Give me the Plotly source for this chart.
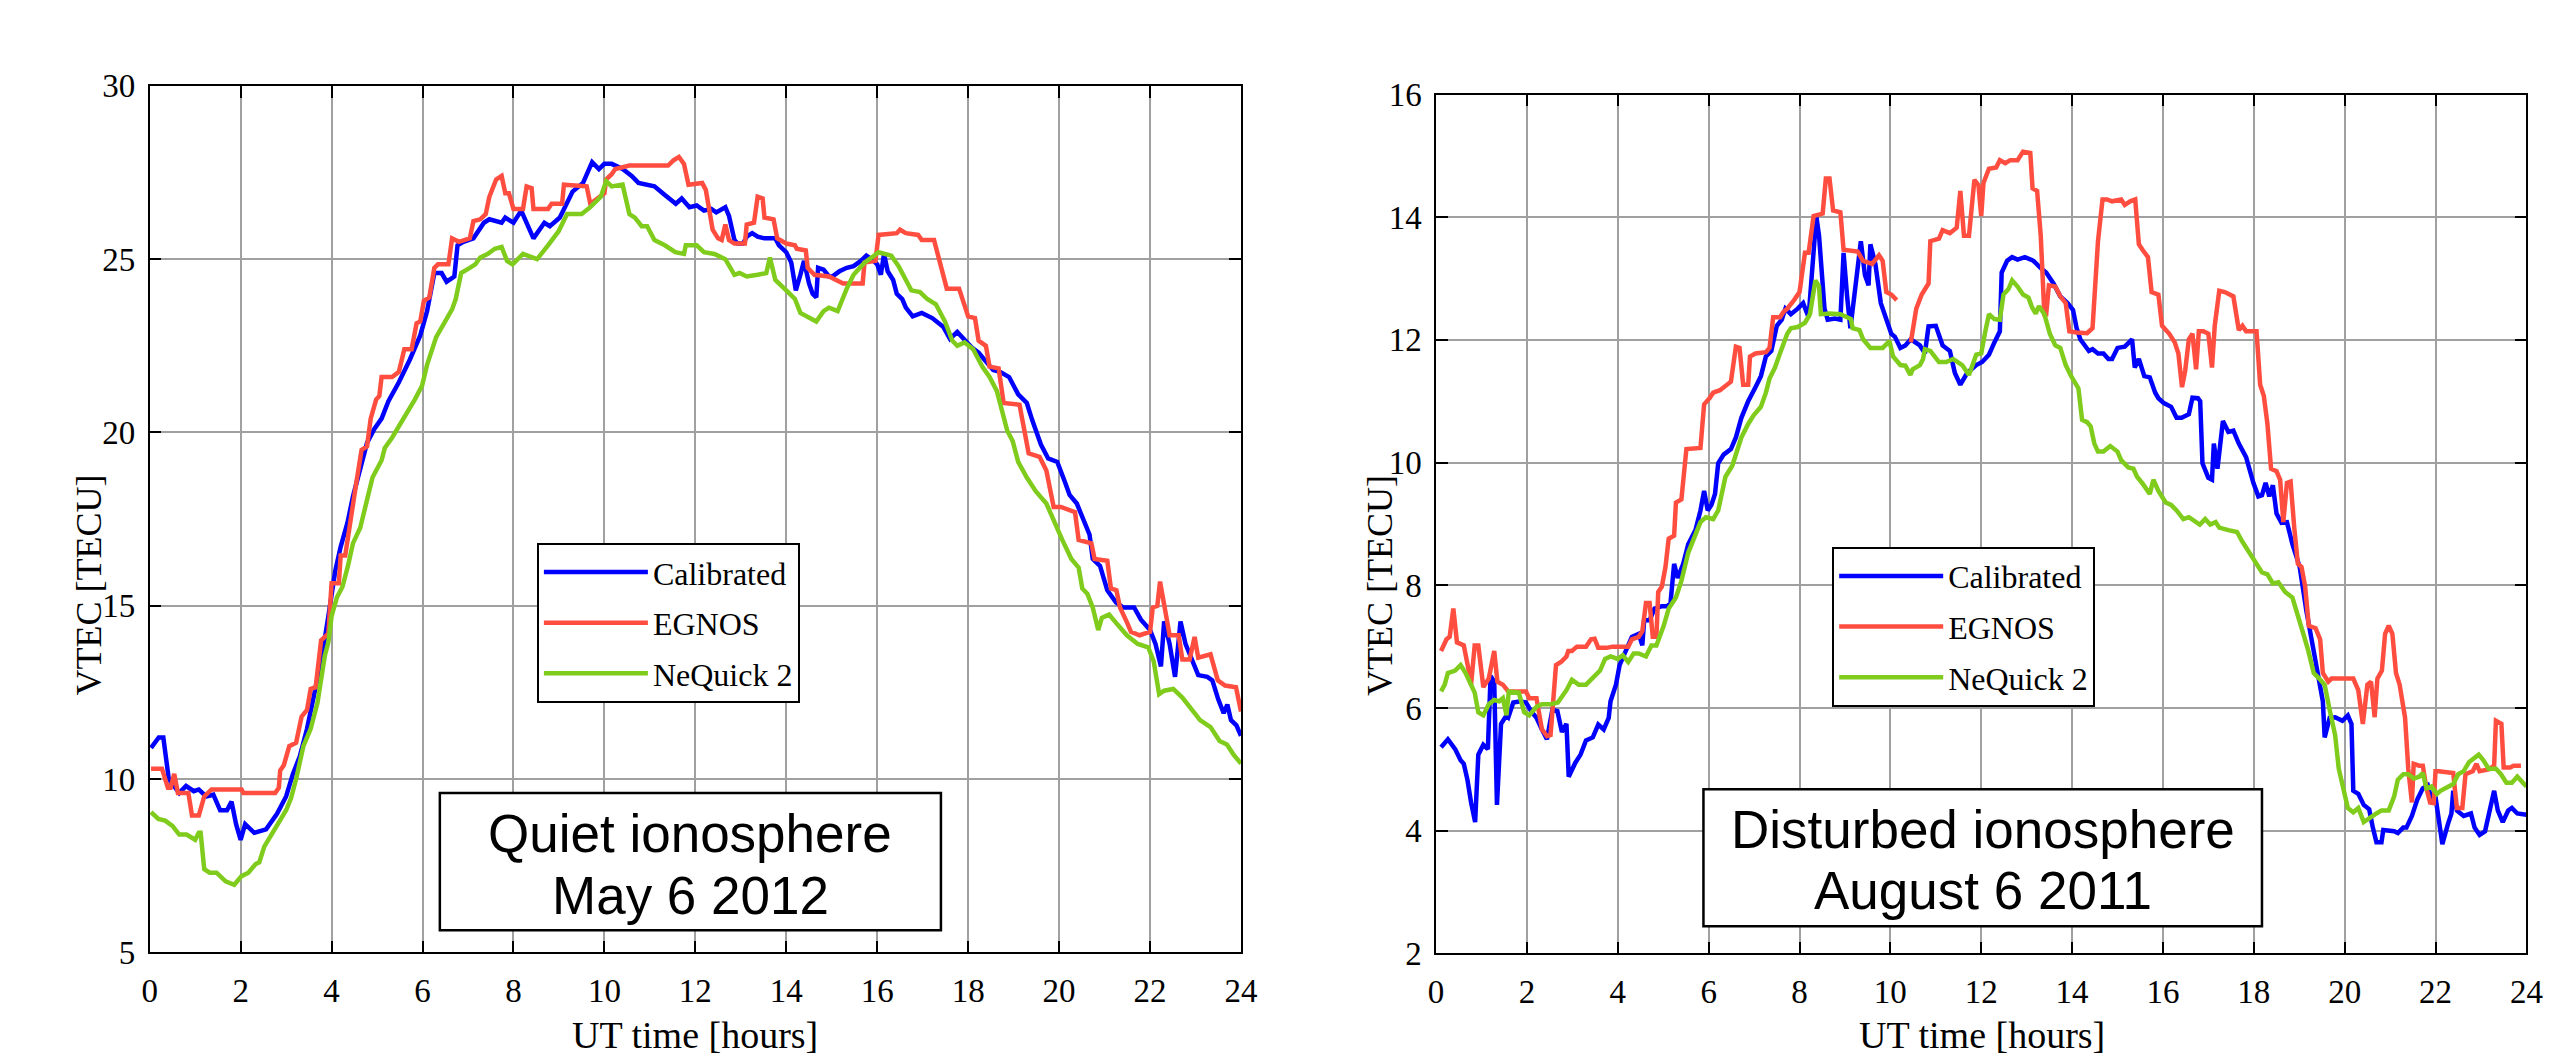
import plotly.graph_objects as go

# ---------------- Quiet ionosphere (May 6 2012) ----------------
q_cal_t = [0.03,0.2,0.3,0.42,0.65,0.8,0.97,1.08,1.24,1.4,1.55,1.7,1.8,1.9,2.0,2.1,2.3,2.56,2.8,3.0,3.15,3.3,3.46,3.6,3.77,3.93,4.08,4.2,4.35,4.47,4.63,4.78,4.94,5.1,5.25,5.48,5.72,5.95,6.1,6.26,6.42,6.53,6.7,6.77,6.9,7.12,7.35,7.47,7.74,7.82,8.0,8.17,8.44,8.68,8.8,9.02,9.3,9.53,9.73,9.88,10.0,10.16,10.4,10.6,10.75,11.1,11.33,11.57,11.7,11.87,
           12.03,12.19,12.35,12.46,12.66,12.74,12.86,12.93,13.05,13.13,13.25,13.37,13.52,13.76,13.84,14.0,14.11,14.21,14.31,14.39,14.5,14.58,14.66,14.7,14.82,14.94,15.01,15.17,15.33,15.48,15.64,15.76,15.88,16.0,16.08,16.15,16.23,16.35,16.43,16.55,16.63,16.78,16.98,17.21,17.45,17.6,17.76,17.92,18.08,18.23,18.39,18.55,18.7,18.9,19.1,19.29,19.41,19.6,19.76,19.96,20.12,20.23,20.39,20.55,20.67,20.74,20.9,21.06,21.25,21.41,21.65,21.8,22.0,22.12,22.24,22.31,22.43,22.55,22.67,22.78,22.9,23.06,23.26,23.37,23.5,23.62,23.7,23.78,23.9,24.0]
q_cal_v = [10.9,11.2,11.2,10.0,9.6,9.8,9.65,9.7,9.5,9.55,9.1,9.1,9.35,8.7,8.25,8.7,8.45,8.55,9.0,9.5,10.15,10.65,11.45,12.4,13.4,14.7,16.0,16.7,17.4,18.15,18.9,19.7,20.1,20.4,20.9,21.45,22.1,22.8,23.5,24.6,24.6,24.35,24.5,25.4,25.5,25.6,26.05,26.15,26.05,26.2,26.05,26.4,25.6,26.05,25.95,26.2,26.95,27.2,27.8,27.6,27.75,27.75,27.6,27.4,27.2,27.1,26.85,26.6,26.75,26.5,
           26.55,26.4,26.45,26.35,26.5,26.25,25.55,25.45,25.45,25.65,25.75,25.65,25.6,25.6,25.4,25.2,24.9,24.1,24.55,24.95,24.3,24.0,23.9,24.75,24.7,24.5,24.5,24.65,24.75,24.8,24.95,25.1,25.0,24.85,24.55,25.15,24.65,24.4,24.0,23.85,23.6,23.35,23.45,23.3,23.05,22.7,22.9,22.65,22.45,22.3,22.05,21.8,21.75,21.6,21.1,20.85,20.35,19.65,19.25,19.15,18.6,18.2,17.95,17.4,17.05,16.35,16.15,15.45,15.1,14.95,14.95,14.6,14.3,13.9,13.25,14.55,13.9,12.95,14.55,13.9,13.5,13.0,12.95,12.85,12.3,11.9,12.15,11.7,11.55,11.25]

q_egn_t = [0.03,0.27,0.4,0.46,0.54,0.62,0.85,0.93,1.08,1.2,1.36,2.02,2.06,2.76,2.84,2.87,2.95,3.07,3.22,3.34,3.46,3.54,3.65,3.77,3.93,4.0,4.16,4.2,4.3,4.47,4.55,4.66,4.78,4.86,4.98,5.05,5.1,5.33,5.48,5.6,5.76,5.87,5.95,6.03,6.15,6.26,6.34,6.57,6.65,6.8,7.04,7.12,7.27,7.39,7.47,7.62,7.74,7.82,7.9,8.0,8.21,8.29,8.4,8.44,8.76,8.84,9.07,9.11,9.61,9.69,10.0,10.04,10.16,10.24,10.55,11.4,11.52,11.64,11.75,11.85,
           12.15,12.23,12.31,12.38,12.5,12.58,12.66,12.74,12.86,13.09,13.13,13.29,13.37,13.48,13.52,13.72,13.8,14.0,14.19,14.23,14.43,14.47,14.62,14.94,15.25,15.68,15.72,15.96,16.03,16.43,16.5,16.63,16.9,16.98,17.25,17.37,17.53,17.8,18.0,18.15,18.23,18.39,18.47,18.67,18.78,19.13,19.33,19.57,19.72,19.88,20.04,20.35,20.43,20.71,20.78,21.06,21.14,21.26,21.34,21.5,21.58,21.77,22.0,22.06,22.16,22.22,22.3,22.43,22.63,22.71,22.87,22.98,23.06,23.33,23.49,23.65,23.89,24.0]
q_egn_v = [10.3,10.3,9.75,9.75,10.15,9.6,9.6,8.95,8.95,9.5,9.7,9.7,9.6,9.6,9.75,10.25,10.4,10.95,11.05,11.8,12.0,12.6,12.65,14.0,14.2,15.65,15.65,16.45,16.45,18.05,18.6,19.5,19.6,20.4,20.95,21.05,21.6,21.6,21.75,22.4,22.4,23.15,23.2,23.8,23.9,24.75,24.85,24.85,25.6,25.5,25.6,26.1,26.15,26.3,26.8,27.3,27.4,26.9,26.9,26.45,26.45,27.1,27.05,26.45,26.45,26.6,26.6,27.15,27.1,26.6,26.9,27.3,27.45,27.6,27.7,27.7,27.85,27.95,27.75,27.15,
           27.2,27.0,26.45,25.85,25.6,25.55,26.0,25.55,25.45,25.45,26.0,26.05,26.8,26.75,26.2,26.15,25.6,25.45,25.4,25.3,25.25,24.75,24.55,24.5,24.3,24.3,24.9,24.95,25.7,25.75,25.85,25.75,25.7,25.55,25.55,24.9,24.15,24.15,23.35,23.3,22.65,22.5,21.9,21.85,20.85,20.8,19.4,19.3,18.9,17.85,17.85,17.7,16.9,16.8,16.35,16.3,15.5,15.45,14.95,14.5,14.25,14.15,14.25,14.95,15.0,15.7,15.05,14.15,14.15,13.45,13.45,14.1,13.5,13.6,12.85,12.7,12.65,11.95]

q_neq_t = [0.03,0.19,0.34,0.5,0.65,0.81,1.0,1.08,1.12,1.2,1.32,1.47,1.67,1.86,2.02,2.17,2.33,2.41,2.52,2.68,2.84,3.0,3.11,3.22,3.38,3.54,3.69,3.77,3.85,3.93,4.0,4.12,4.24,4.36,4.47,4.63,4.74,4.9,5.1,5.17,5.33,5.56,5.72,5.83,5.99,6.1,6.3,6.5,6.65,6.73,6.85,7.04,7.16,7.27,7.43,7.59,7.74,7.86,7.98,8.21,8.52,8.76,8.99,9.18,9.5,9.69,9.92,10.04,10.16,10.4,10.55,10.67,10.82,10.94,11.1,11.33,11.56,11.75,11.79,11.99,
           12.03,12.19,12.42,12.66,12.86,12.97,13.13,13.37,13.56,13.64,13.76,14.0,14.19,14.31,14.5,14.66,14.82,14.94,15.13,15.33,15.48,15.72,15.88,16.03,16.31,16.47,16.63,16.75,16.94,17.1,17.29,17.49,17.65,17.76,17.92,18.11,18.31,18.47,18.63,18.74,18.86,18.98,19.1,19.29,19.49,19.72,19.88,20.07,20.27,20.43,20.51,20.62,20.74,20.86,20.94,21.1,21.29,21.49,21.73,21.96,22.08,22.2,22.31,22.51,22.71,22.9,23.1,23.33,23.53,23.69,23.84,24.0]
q_neq_v = [9.05,8.85,8.8,8.65,8.4,8.4,8.25,8.45,8.45,7.4,7.3,7.3,7.05,6.95,7.2,7.3,7.55,7.6,8.05,8.4,8.8,9.1,9.45,10.0,10.95,11.45,12.2,12.9,13.55,13.95,14.7,15.25,15.55,16.15,16.8,17.25,17.9,18.7,19.2,19.55,19.85,20.35,20.65,20.95,21.35,21.95,22.75,23.2,23.55,23.85,24.6,24.75,24.85,25.05,25.15,25.3,25.35,24.95,24.85,25.15,25.0,25.4,25.8,26.3,26.3,26.5,26.8,27.25,27.1,27.15,26.3,26.2,25.95,25.95,25.55,25.4,25.2,25.15,25.4,25.4,
           25.4,25.2,25.15,25.0,24.55,24.6,24.5,24.55,24.6,25.05,24.4,24.1,23.85,23.45,23.3,23.2,23.5,23.6,23.5,24.15,24.55,24.9,25.05,25.2,25.1,24.8,24.4,24.1,24.05,23.85,23.7,23.2,22.65,22.5,22.6,22.4,21.9,21.6,21.2,20.7,20.05,19.75,19.15,18.7,18.3,17.95,17.45,16.9,16.35,16.1,15.5,15.35,14.95,14.3,14.65,14.75,14.45,14.15,13.9,13.8,13.4,12.45,12.55,12.6,12.35,12.05,11.7,11.5,11.1,11.0,10.7,10.45]

# ---------------- Disturbed ionosphere (August 6 2011) ----------------
d_cal_t = [0.11,0.26,0.42,0.54,0.61,0.69,0.77,0.86,0.93,1.04,1.14,1.2,1.28,1.34,1.43,1.55,1.59,1.7,1.86,1.98,2.09,2.21,2.33,2.44,2.56,2.67,2.77,2.87,2.92,3.06,3.18,3.3,3.45,3.57,3.69,3.8,3.84,3.96,4.04,4.15,4.31,4.46,4.54,4.58,4.7,4.81,4.97,5.09,5.16,5.24,5.32,5.44,5.55,5.71,5.82,5.9,5.98,6.06,6.14,6.21,6.33,6.49,6.6,6.72,6.87,7.03,7.15,7.26,7.38,7.5,7.61,7.69,7.81,7.96,8.08,8.2,8.23,8.37,8.43,8.55,8.62,8.78,8.9,8.97,9.05,9.12,9.21,9.35,9.44,9.52,9.56,9.67,9.79,9.91,10.02,10.1,10.22,10.33,10.45,10.65,10.76,10.84,11.0,11.15,11.31,11.42,11.54,11.69,11.89,
           12.02,12.17,12.29,12.41,12.45,12.57,12.68,12.8,12.96,13.15,13.31,13.43,13.59,13.74,13.9,14.02,14.1,14.18,14.37,14.45,14.57,14.69,14.8,14.88,15.0,15.16,15.32,15.38,15.47,15.59,15.71,15.83,15.9,16.02,16.18,16.3,16.41,16.57,16.65,16.77,16.82,16.87,17.0,17.08,17.12,17.2,17.32,17.44,17.55,17.67,17.83,17.99,18.1,18.18,18.26,18.34,18.42,18.5,18.61,18.73,18.85,19.01,19.16,19.32,19.44,19.52,19.56,19.67,19.79,19.95,20.07,20.15,20.19,20.3,20.42,20.54,20.62,20.7,20.81,20.85,21.09,21.17,21.29,21.36,21.48,21.6,21.72,21.83,21.91,21.99,22.07,22.15,22.27,22.35,22.39,22.47,22.62,22.78,22.86,22.97,23.09,23.17,23.29,23.37,23.48,23.6,23.68,23.8,24.0]
d_cal_v = [5.36,5.49,5.33,5.15,5.09,4.83,4.46,4.14,5.24,5.4,5.33,6.52,6.43,4.42,5.74,5.88,5.85,6.09,6.11,6.09,5.95,5.84,5.65,5.49,5.97,5.95,5.61,5.74,4.88,5.1,5.24,5.47,5.52,5.73,5.65,5.84,6.11,6.38,6.7,6.89,7.16,7.21,7.02,7.43,7.43,7.62,7.66,7.66,7.71,8.35,8.12,8.35,8.67,8.9,9.22,9.54,9.22,9.31,9.49,9.99,10.13,10.22,10.41,10.73,11.0,11.23,11.41,11.73,11.82,12.23,12.33,12.51,12.42,12.51,12.6,12.37,12.65,14.02,13.7,12.51,12.33,12.35,12.33,13.42,12.69,12.19,12.74,13.61,13.06,12.89,13.56,13.24,12.6,12.33,12.1,12.05,11.87,11.91,12.01,11.91,11.78,12.22,12.23,11.91,11.82,11.46,11.27,11.46,11.59,
           11.64,11.76,11.96,12.14,13.1,13.29,13.35,13.31,13.35,13.29,13.17,13.1,12.92,12.71,12.6,12.49,12.19,12.01,11.82,11.85,11.78,11.78,11.69,11.69,11.87,11.89,12.01,11.55,11.69,11.41,11.39,11.14,11.05,10.97,10.91,10.73,10.73,10.79,11.06,11.05,11.0,9.99,9.75,9.72,10.31,9.9,10.68,10.5,10.52,10.31,10.09,9.67,9.45,9.47,9.67,9.45,9.63,9.17,9.02,9.03,8.67,8.3,7.57,6.93,6.52,6.11,5.52,5.84,5.85,5.79,5.88,5.74,4.65,4.6,4.42,4.35,4.05,3.81,3.81,4.01,3.99,3.96,4.05,4.05,4.24,4.51,4.69,4.74,4.51,4.6,4.19,3.78,4.1,4.28,4.65,4.33,4.24,4.28,4.05,3.93,3.99,4.24,4.65,4.33,4.14,4.33,4.37,4.28,4.26]

d_egn_t = [0.11,0.23,0.3,0.38,0.46,0.61,0.73,0.77,0.85,0.93,1.04,1.16,1.28,1.35,1.47,1.59,1.98,2.05,2.21,2.33,2.44,2.52,2.64,2.75,2.87,2.91,2.99,3.1,3.3,3.41,3.49,3.57,3.76,3.88,4.23,4.31,4.46,4.54,4.62,4.7,4.77,4.85,4.89,4.97,5.05,5.12,5.24,5.28,5.4,5.51,5.82,5.9,6.02,6.1,6.25,6.41,6.49,6.6,6.68,6.76,6.87,6.91,7.03,7.26,7.34,7.42,7.57,7.65,7.73,7.88,8.0,8.12,8.2,8.31,8.51,8.58,8.66,8.74,8.9,8.97,9.28,9.4,9.6,9.75,9.83,9.91,10.02,10.14,10.3,
           10.45,10.57,10.69,10.84,10.88,11.07,11.15,11.31,11.46,11.54,11.62,11.73,11.85,11.94,12.0,12.05,12.17,12.33,12.41,12.53,12.64,12.8,12.92,13.08,13.13,13.23,13.31,13.39,13.43,13.49,13.63,13.74,13.86,13.94,14.1,14.33,14.45,14.57,14.67,14.77,14.88,15.08,15.16,15.28,15.39,15.47,15.55,15.67,15.75,15.9,15.98,16.14,16.26,16.34,16.42,16.49,16.57,16.65,16.73,16.79,16.89,17.0,17.08,17.14,17.24,17.36,17.55,17.67,17.75,17.83,18.06,18.14,18.22,18.3,18.38,18.5,18.58,18.65,18.73,18.81,18.89,18.97,19.05,19.13,19.21,19.36,19.46,19.52,19.64,19.71,19.87,20.19,20.3,20.4,20.5,20.58,20.66,20.72,20.82,20.89,20.97,21.05,21.13,21.21,21.33,21.4,21.48,21.52,21.64,21.72,21.8,21.88,21.96,22.0,22.07,22.31,22.39,22.47,22.59,22.66,22.82,22.9,22.97,23.17,23.29,23.33,23.45,23.5,23.64,23.72,23.88]
d_egn_v = [6.93,7.12,7.16,7.62,7.07,7.02,6.57,6.38,7.02,7.02,6.34,6.48,6.93,6.43,6.38,6.27,6.27,6.16,6.16,5.65,5.54,5.56,6.7,6.75,6.84,6.93,6.93,7.0,7.0,7.12,7.13,6.98,6.98,7.0,7.0,7.12,7.16,7.25,7.71,7.71,7.16,7.16,7.89,7.98,8.3,8.76,8.81,9.35,9.4,10.22,10.24,10.95,11.05,11.14,11.18,11.27,11.32,11.89,11.87,11.27,11.27,11.73,11.78,11.8,11.87,12.37,12.37,12.46,12.51,12.65,12.78,13.42,13.42,14.02,14.06,14.63,14.63,14.11,14.08,13.47,13.44,13.29,13.24,13.38,13.29,12.78,12.74,12.65,None,
           11.96,12.51,12.74,12.92,13.61,13.65,13.79,13.74,13.83,14.43,13.7,13.7,14.61,14.52,14.02,14.56,14.79,14.81,14.93,14.88,14.93,14.93,15.07,15.05,14.47,14.43,13.7,12.42,12.42,12.89,12.87,12.71,12.6,12.14,12.12,12.11,12.19,13.61,14.29,14.29,14.26,14.29,14.2,14.26,14.29,13.56,13.47,13.35,12.78,12.74,12.23,12.1,11.96,11.78,11.23,11.5,12.01,12.1,11.52,12.14,12.14,12.1,11.55,12.23,12.8,12.78,12.71,12.16,12.23,12.14,12.14,11.27,11.09,10.63,9.9,9.86,9.72,9.03,9.67,9.69,8.94,8.35,8.3,7.98,7.34,7.3,7.12,6.57,6.43,6.48,6.48,6.48,6.29,5.74,6.38,6.43,5.85,6.48,6.61,7.21,7.34,7.21,6.57,6.38,5.84,5.01,4.46,5.09,5.06,5.06,4.69,4.46,4.45,4.97,4.97,4.94,4.94,4.37,4.37,4.92,4.97,5.09,4.97,5.0,5.06,5.79,5.74,5.03,5.03,5.06,5.06]

d_neq_t = [0.11,0.19,0.26,0.42,0.54,0.65,0.77,0.85,0.93,1.04,1.16,1.28,1.39,1.47,1.55,1.6,1.82,1.94,2.05,2.21,2.33,2.52,2.68,2.87,2.99,3.14,3.3,3.49,3.61,3.72,3.84,4.0,4.11,4.23,4.35,4.46,4.62,4.74,4.85,5.01,5.12,5.28,5.4,5.55,5.67,5.82,5.94,6.1,6.21,6.29,6.37,6.52,6.6,6.72,6.87,6.99,7.15,7.26,7.34,7.46,7.57,7.73,7.81,7.96,8.12,8.23,8.35,8.43,8.47,8.66,8.9,9.13,9.17,9.32,9.4,9.56,9.83,9.98,10.06,10.22,10.33,10.44,10.49,10.65,10.72,10.76,10.88,11.07,11.23,11.38,11.58,11.73,11.89,12.0,
           12.09,12.17,12.29,12.41,12.49,12.6,12.68,12.8,12.92,13.04,13.12,13.2,13.27,13.39,13.51,13.63,13.74,13.86,13.98,14.14,14.22,14.33,14.41,14.49,14.57,14.69,14.84,15.0,15.08,15.24,15.35,15.43,15.55,15.71,15.79,15.9,16.06,16.18,16.3,16.45,16.57,16.81,16.93,17.04,17.16,17.24,17.44,17.63,17.75,17.91,18.03,18.18,18.3,18.42,18.54,18.69,18.85,18.97,19.09,19.2,19.32,19.44,19.56,19.67,19.79,19.87,19.99,20.07,20.19,20.3,20.42,20.54,20.7,20.81,20.97,21.09,21.17,21.29,21.4,21.52,21.64,21.72,21.8,21.91,22.03,22.11,22.23,22.39,22.5,22.62,22.74,22.86,22.95,23.05,23.17,23.33,23.44,23.56,23.68,23.8,24.0]
d_neq_v = [6.27,6.38,6.57,6.61,6.7,6.57,6.38,6.25,5.93,5.88,6.06,6.13,6.11,6.16,5.88,6.27,6.25,5.93,5.88,6.02,6.06,6.06,6.09,6.29,6.46,6.38,6.38,6.52,6.61,6.8,6.84,6.8,6.86,6.75,6.89,6.89,6.84,7.02,7.02,7.34,7.62,7.8,8.07,8.53,8.76,9.03,9.11,9.08,9.22,9.49,9.77,9.95,10.15,10.41,10.63,10.77,10.91,11.14,11.37,11.55,11.78,12.1,12.19,12.21,12.28,12.42,12.97,12.87,12.42,12.43,12.42,12.34,12.19,12.16,12.01,11.87,11.87,11.98,11.73,11.59,11.58,11.43,11.52,11.59,11.69,11.85,11.82,11.64,11.64,11.69,11.59,11.43,11.76,11.78,
           12.14,12.42,12.34,12.33,12.74,12.83,12.97,12.87,12.74,12.69,12.53,12.43,12.55,12.42,12.1,11.91,11.87,11.59,11.41,11.21,10.7,10.66,10.59,10.31,10.18,10.18,10.27,10.18,10.04,9.92,9.9,9.77,9.66,9.49,9.72,9.54,9.35,9.31,9.22,9.08,9.11,8.99,9.08,8.99,9.03,8.94,8.9,8.87,8.71,8.53,8.38,8.21,8.18,8.03,8.05,7.89,7.8,7.53,7.21,6.93,6.57,6.48,6.38,5.97,5.56,5.01,4.65,4.37,4.3,4.37,4.14,4.21,4.28,4.33,4.33,4.56,4.83,4.92,4.92,4.85,4.88,4.94,4.69,4.72,4.6,4.65,4.69,4.76,4.92,4.97,5.12,5.2,5.24,5.15,5.01,5.01,4.92,4.78,4.78,4.88,4.72]

series_names = ["Calibrated", "EGNOS", "NeQuick 2"]
series_colors = ["#0000ff", "#ff4d40", "#7fcc1c"]
x_ticks = list(range(0, 25, 2))
q_y_ticks = [5, 10, 15, 20, 25, 30]
d_y_ticks = [2, 4, 6, 8, 10, 12, 14, 16]
y_title = "VTEC [TECU]"
x_title = "UT time [hours]"
q_label = ["Quiet ionosphere", "May 6 2012"]
d_label = ["Disturbed ionosphere", "August 6 2011"]

W, H = 2574, 1060
def px(x):
    return x / W
def py(y):
    return 1 - y / H

fig = go.Figure()

quiet = [(q_cal_t, q_cal_v), (q_egn_t, q_egn_v), (q_neq_t, q_neq_v)]
dist = [(d_cal_t, d_cal_v), (d_egn_t, d_egn_v), (d_neq_t, d_neq_v)]
for i, (t, v) in enumerate(quiet):
    fig.add_trace(go.Scatter(x=t, y=v, mode="lines", name=series_names[i],
                             line=dict(color=series_colors[i], width=4.5),
                             xaxis="x", yaxis="y", legend="legend",
                             legendgroup="q%d" % i))
for i, (t, v) in enumerate(dist):
    fig.add_trace(go.Scatter(x=t, y=v, mode="lines", name=series_names[i],
                             line=dict(color=series_colors[i], width=4.5),
                             xaxis="x2", yaxis="y2", legend="legend2",
                             legendgroup="d%d" % i, connectgaps=False))

serif = "Liberation Serif"
sans = "Liberation Sans"
tickfont = dict(family=serif, size=33, color="black")
common = dict(showgrid=True, gridcolor="#a0a0a0", gridwidth=1.5, showline=True,
              linecolor="black", linewidth=1.5, mirror="ticks", ticks="inside", ticklen=12,
              tickwidth=2, tickcolor="black", tickfont=tickfont, zeroline=False)

legend_common = dict(xanchor="left", yanchor="top",
                     font=dict(family=serif, size=32, color="black"),
                     bgcolor="white", bordercolor="black", borderwidth=2,
                     itemwidth=104, tracegroupgap=6)

fig.update_layout(
    width=W, height=H, autosize=False,
    margin=dict(l=0, r=0, t=0, b=0),
    paper_bgcolor="white", plot_bgcolor="white",
    xaxis=dict(domain=[px(135), px(1237)], range=[0, 24], tickvals=x_ticks, anchor="y",
               ticklabelstandoff=8, **common),
    yaxis=dict(domain=[py(960), py(63)], range=[5, 30], tickvals=q_y_ticks, anchor="x",
               ticklabelstandoff=6, **common),
    xaxis2=dict(domain=[px(1434), px(2535)], range=[0, 24], tickvals=x_ticks, anchor="y2",
                ticklabelstandoff=8, **common),
    yaxis2=dict(domain=[py(961), py(72)], range=[2, 16], tickvals=d_y_ticks, anchor="x2",
                ticklabelstandoff=6, **common),
    legend=dict(x=px(526), y=py(536), **legend_common),
    legend2=dict(x=px(1834), y=py(540), **legend_common),
    showlegend=True,
)

ann = []
for cx in (686, 1985):
    ann.append(dict(x=px(cx), y=py(1045), xref="paper", yref="paper", text=x_title,
                    showarrow=False, font=dict(family=serif, size=38, color="black"),
                    xanchor="center", yanchor="middle"))
for cx in (74, 1378):
    ann.append(dict(x=px(cx), y=py(580), xref="paper", yref="paper", text=y_title,
                    showarrow=False, textangle=-90, font=dict(family=serif, size=36, color="black"),
                    xanchor="center", yanchor="middle"))
shapes = []
for (lines, box, ys) in ((q_label, (428, 795, 934, 937), (837, 901)),
                         (d_label, (1704, 791, 2268, 933), (833, 896))):
    x0, y0, x1, y1 = box
    shapes.append(dict(type="rect", xref="paper", yref="paper", x0=px(x0), x1=px(x1),
                       y0=py(y1), y1=py(y0), line=dict(color="black", width=2.5),
                       fillcolor="white", layer="above"))
    for txt, yy in zip(lines, ys):
        ann.append(dict(x=px((x0 + x1) / 2), y=py(yy), xref="paper", yref="paper", text=txt,
                        showarrow=False, font=dict(family=sans, size=53, color="black"),
                        xanchor="center", yanchor="middle"))
fig.update_layout(annotations=ann, shapes=shapes)

fig.write_html("out.html")
